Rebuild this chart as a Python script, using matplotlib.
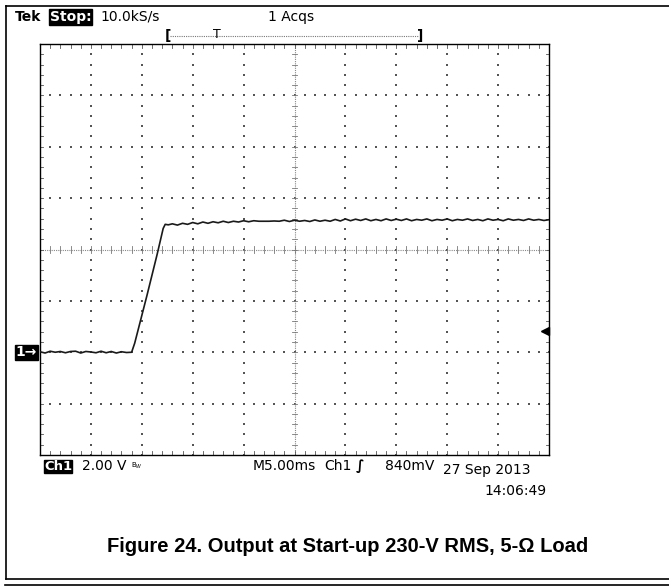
import numpy as np
import matplotlib
matplotlib.use("Agg")
import matplotlib.pyplot as plt
from matplotlib.lines import Line2D

# ---- data (time in ms, voltage in V) ----
t_base = [0.0, 0.5, 1.0, 1.5, 2.0, 2.5, 3.0, 3.5, 4.0, 4.5, 5.0, 5.5, 6.0, 6.5,
          7.0, 7.5, 8.0, 8.5, 9.0]
v_base = [0.02, -0.03, 0.04, 0.00, 0.03, -0.02, 0.03, 0.04, -0.03, 0.03, 0.01,
          -0.02, 0.04, -0.02, 0.03, -0.03, 0.02, -0.01, 0.00]
t_rise = [9.3, 10.5, 11.5, 12.1, 12.3]
v_rise = [0.35, 2.20, 3.80, 4.82, 4.98]
t_plat = [12.6, 13.0, 13.5, 14.0, 14.5, 15.0, 15.5, 16.0, 16.5, 17.0, 17.5,
          18.0, 18.5, 19.0, 19.5, 20.0, 20.5, 21.0, 21.5, 22.0, 22.5, 23.0,
          23.5, 24.0, 24.5, 25.0, 25.5, 26.0, 26.5, 27.0, 27.5, 28.0, 28.5,
          29.0, 29.5, 30.0, 30.5, 31.0, 31.5, 32.0, 32.5, 33.0, 33.5, 34.0,
          34.5, 35.0, 35.5, 36.0, 36.5, 37.0, 37.5, 38.0, 38.5, 39.0, 39.5,
          40.0, 40.5, 41.0, 41.5, 42.0, 42.5, 43.0, 43.5, 44.0, 44.5, 45.0,
          45.5, 46.0, 46.5, 47.0, 47.5, 48.0, 48.5, 49.0, 49.5, 50.0]
v_plat = [4.96, 5.00, 4.95, 5.02, 4.98, 5.05, 5.00, 5.07, 5.02, 5.08, 5.04,
          5.10, 5.05, 5.10, 5.07, 5.12, 5.08, 5.12, 5.10, 5.10, 5.10, 5.11,
          5.10, 5.14, 5.09, 5.14, 5.10, 5.13, 5.09, 5.15, 5.10, 5.14, 5.10,
          5.17, 5.11, 5.19, 5.12, 5.18, 5.13, 5.19, 5.12, 5.17, 5.12, 5.19,
          5.13, 5.18, 5.13, 5.19, 5.12, 5.17, 5.14, 5.19, 5.12, 5.17, 5.14,
          5.19, 5.12, 5.17, 5.14, 5.19, 5.13, 5.17, 5.12, 5.19, 5.14, 5.17,
          5.12, 5.19, 5.14, 5.17, 5.13, 5.19, 5.14, 5.17, 5.13, 5.16]

volts_per_div = 2.0
ms_per_div = 5.0
trigger_level = 0.84

t = t_base + t_rise + t_plat
v = v_base + v_rise + v_plat

W, H = 669, 586
fig = plt.figure(figsize=(W / 100, H / 100), dpi=100)
fig.patch.set_facecolor("white")

L, R, T, B = 40, 549, 44, 455
ax = fig.add_axes([L / W, 1 - B / H, (R - L) / W, (B - T) / H])
ax.set_xlim(0, 10 * ms_per_div)
ax.set_ylim(-2 * volts_per_div, 6 * volts_per_div)
ax.set_xticks([])
ax.set_yticks([])
for s in ax.spines.values():
    s.set_linewidth(1.0)
    s.set_color("black")

xdiv = [i * ms_per_div for i in range(11)]
ydiv = [-4 + i * volts_per_div for i in range(9)]
xminor = [i * ms_per_div / 5 for i in range(51)]
yminor = [-4 + i * volts_per_div / 5 for i in range(41)]
xc, yc = 25.0, 4.0
dot = dict(color="#555555", s=1.1, marker="s", linewidths=0)

# dotted graticule
for x in xdiv[1:-1]:
    if x == xc:
        continue
    ax.scatter([x] * len(yminor), yminor, **dot)
for y in ydiv[1:-1]:
    if y == yc:
        continue
    ax.scatter(xminor, [y] * len(xminor), **dot)

# center lines (dense dotted + ticks)
ax.plot([0, 50], [yc, yc], color="#888888", lw=0.8, ls=(0, (1, 1)))
ax.plot([xc, xc], [-4, 12], color="#888888", lw=0.8, ls=(0, (1, 1)))
for x in xminor:
    ax.plot([x, x], [yc - 0.12, yc + 0.12], color="#777777", lw=0.6)
for y in yminor:
    ax.plot([xc - 0.2, xc + 0.2], [y, y], color="#777777", lw=0.6)

# edge ticks
for x in xminor:
    ax.plot([x, x], [12, 11.85], color="#555555", lw=0.6)
    ax.plot([x, x], [-4, -3.85], color="#555555", lw=0.6)
for y in yminor:
    ax.plot([0, 0.25], [y, y], color="#555555", lw=0.6)
    ax.plot([50, 49.75], [y, y], color="#555555", lw=0.6)

# trace
ax.plot(t, v, color="#1a1a1a", lw=1.2, zorder=5)

# trigger level arrow at right
ax.plot([49.6], [trigger_level], marker="<", color="black", ms=6,
        clip_on=False, zorder=6)

fs = 10
mono = ["DejaVu Sans"]
# ground marker
ax.text(-0.3, 0.0, "1\u2192", ha="right", va="center", fontsize=fs,
        color="white", family=mono, fontweight="bold",
        bbox=dict(boxstyle="square,pad=0.05", fc="black", ec="black"),
        transform=ax.transData, clip_on=False)


def ftext(x, y, s, **kw):
    fig.text(x / W, 1 - y / H, s, **kw)


ftext(15, 17, "Tek", fontsize=fs, fontweight="bold", family=mono, va="center")
ftext(50, 17, "Stop:", fontsize=fs, fontweight="bold", family=mono, va="center",
      color="white",
      bbox=dict(boxstyle="square,pad=0.05", fc="black", ec="black"))
ftext(100, 17, "10.0kS/s", fontsize=fs, family=mono, va="center")
ftext(268, 17, "1 Acqs", fontsize=fs, family=mono, va="center")

# record bracket
ftext(165, 36, "[", fontsize=fs, family=mono, va="center", fontweight="bold")
ftext(417, 36, "]", fontsize=fs, family=mono, va="center", fontweight="bold")
fig.add_artist(Line2D([170 / W, 418 / W], [1 - 36 / H, 1 - 36 / H],
                      color="#777777", lw=0.8, ls=(0, (1, 1))))
ftext(217, 35, "T", fontsize=fs - 1, family=mono, va="center", ha="center")

# bottom readouts
ftext(44, 466, "Ch1", fontsize=9.5, fontweight="bold", family=mono,
      va="center", color="white",
      bbox=dict(boxstyle="square,pad=0.0", fc="black", ec="black"))
ftext(82, 466, "2.00 V", fontsize=fs, family=mono, va="center")
ftext(131, 466, "B$_{W}$", fontsize=5, family=mono, va="center")
ftext(253, 466, "M5.00ms", fontsize=fs, family=mono, va="center")
ftext(324, 466, "Ch1", fontsize=fs, family=mono, va="center")
ftext(356, 466, "\u222b", fontsize=fs, family=mono, va="center",
      fontweight="bold")
ftext(385, 466, "840mV", fontsize=fs, family=mono, va="center")
ftext(443, 470, "27 Sep 2013", fontsize=fs, family=mono, va="center")
ftext(484, 491, "14:06:49", fontsize=fs, family=mono, va="center")

# caption
ftext(348, 546, "Figure 24. Output at Start-up 230-V RMS, 5-\u03a9 Load",
      fontsize=14.5, fontweight="bold", family=["Liberation Sans"],
      ha="center", va="center")

# outer frame lines
fig.add_artist(Line2D([6 / W, 6 / W], [1 - 6 / H, 1 - 579 / H],
                      color="black", lw=1.2))
fig.add_artist(Line2D([6 / W, 1], [1 - 6 / H, 1 - 6 / H], color="black", lw=1.2))
fig.add_artist(Line2D([6 / W, 1], [1 - 579 / H, 1 - 579 / H],
                      color="black", lw=1.2))
fig.add_artist(Line2D([5 / W, 1], [1 - 585 / H, 1 - 585 / H],
                      color="black", lw=1.2))

fig.savefig("out.png", dpi=100, facecolor="white")
